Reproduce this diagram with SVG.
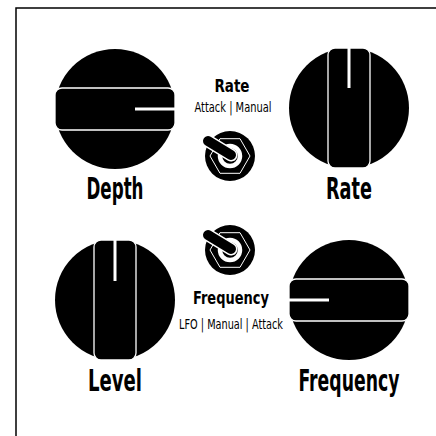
<svg xmlns="http://www.w3.org/2000/svg" width="436" height="436" viewBox="0 0 436 436">
<style>
.knob{fill:#000}
.grip{fill:#000;stroke:#fff;stroke-width:1.3}
.ind{stroke:#fff;stroke-width:3;stroke-linecap:butt}
.big{font-family:"DejaVu Sans Condensed","DejaVu Sans",sans-serif;font-weight:bold;font-size:30px;fill:#000;text-anchor:middle}
.mid{font-family:"DejaVu Sans Condensed","DejaVu Sans",sans-serif;font-weight:bold;font-size:17px;fill:#000;text-anchor:middle}
.sm{font-family:"DejaVu Sans Condensed","DejaVu Sans",sans-serif;font-size:13.5px;fill:#000;text-anchor:middle}
.hex{fill:none;stroke:#fff;stroke-width:1}
.ring{fill:#000;stroke:#fff;stroke-width:4.5}
</style>
<defs>
<g id="toggle">
<circle r="25" fill="#000"/>
<polygon class="hex" points="20,0 10,17.3 -10,17.3 -20,0 -10,-17.3 10,-17.3"/>
<circle class="ring" r="10"/>
<line x1="1" y1="-1" x2="-22" y2="-15" stroke="#fff" stroke-width="13" stroke-linecap="round"/>
<line x1="1" y1="-1" x2="-22" y2="-15" stroke="#000" stroke-width="10" stroke-linecap="round"/>
</g>
</defs>
<path d="M16,436 V8 H436" fill="none" stroke="#000" stroke-width="1.5"/>

<g id="depth">
<circle class="knob" cx="115" cy="109" r="60"/>
<rect class="grip" x="55" y="88" width="120" height="42" rx="7"/>
<line class="ind" x1="135" y1="109" x2="175" y2="109"/>
<text class="big" x="115" y="199" textLength="57" lengthAdjust="spacingAndGlyphs">Depth</text>
</g>

<g id="rate">
<circle class="knob" cx="349" cy="108" r="60"/>
<rect class="grip" x="328" y="48" width="42" height="120" rx="7"/>
<line class="ind" x1="349" y1="48" x2="349" y2="88"/>
<text class="big" x="349" y="199" textLength="46" lengthAdjust="spacingAndGlyphs">Rate</text>
</g>

<g id="level">
<circle class="knob" cx="115" cy="300" r="60"/>
<rect class="grip" x="94" y="240" width="42" height="120" rx="7"/>
<line class="ind" x1="115" y1="240" x2="115" y2="281"/>
<text class="big" x="115" y="391" textLength="54" lengthAdjust="spacingAndGlyphs">Level</text>
</g>

<g id="frequency">
<circle class="knob" cx="349" cy="300" r="60"/>
<rect class="grip" x="289" y="279" width="120" height="42" rx="7"/>
<line class="ind" x1="289" y1="300" x2="329" y2="300"/>
<text class="big" x="349" y="391" textLength="101" lengthAdjust="spacingAndGlyphs">Frequency</text>
</g>

<g id="rate-switch">
<text class="mid" x="232" y="92" textLength="35" lengthAdjust="spacingAndGlyphs">Rate</text>
<text class="sm" x="233" y="112" textLength="77" lengthAdjust="spacingAndGlyphs">Attack | Manual</text>
<use href="#toggle" x="230" y="156"/>
</g>

<g id="frequency-switch">
<use href="#toggle" x="230" y="250"/>
<text class="mid" x="231" y="304" textLength="76" lengthAdjust="spacingAndGlyphs">Frequency</text>
<text class="sm" x="231" y="329" textLength="104" lengthAdjust="spacingAndGlyphs">LFO | Manual | Attack</text>
</g>

<g id="connectors"></g>
</svg>
